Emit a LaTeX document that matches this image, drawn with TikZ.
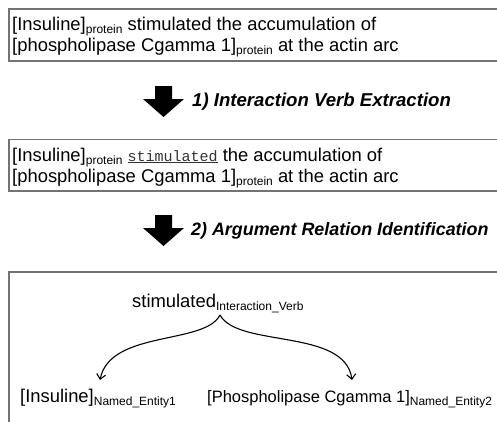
\documentclass[tikz,border=0pt]{standalone}
\usepackage{fontspec}
\setmainfont{Liberation Sans}
\newfontfamily\monofnt{Liberation Mono}
\usetikzlibrary{arrows.meta}
\newcommand\sbs[1]{\raisebox{-3pt}{\fontsize{12}{12}\selectfont #1}}
\tikzset{
  boxline/.style={draw=black!55, line width=1.4pt},
  txt/.style={anchor=base west, inner sep=0pt, font=\fontsize{18.4}{21}\selectfont},
  steplabel/.style={anchor=base west, inner sep=0pt, font=\fontsize{18.6}{21}\selectfont\bfseries\itshape},
  blockarrow/.style={fill=black},
  relarrow/.style={draw=black, line width=1.1pt, -{Straight Barb[length=5pt,width=9pt,line width=1.1pt]}}
}
\begin{document}
\begin{tikzpicture}[x=1pt,y=-1pt]
\useasboundingbox (0,0) rectangle (497,421);
\clip (0,0) rectangle (497,421);
\fill[white] (0,0) rectangle (497,421);
% boxes
\draw[boxline] (9,9) rectangle (520,61);
\draw[boxline] (9,139.5) rectangle (520,191);
\draw[boxline] (520,272) -- (9,272) -- (9,440);
% box 1
\node[txt] (b1a) at (12,30) {[Insuline]\sbs{protein} stimulated the accumulation of};
\node[txt] (b1b) at (12,51) {[phospholipase Cgamma 1]\sbs{protein} at the actin arc};
% step 1
\fill[blockarrow] (155,86) -- (172,86) -- (172,99) -- (184,99) -- (163.5,117) -- (143,99) -- (155,99) -- cycle;
\node[steplabel] (s1) at (192,106) {1) Interaction Verb Extraction};
% box 2
\node[txt] (b2a) at (12,161) {[Insuline]\sbs{protein} {\monofnt\fontsize{15}{15}\selectfont\color{black!80}\underline{stimulated}} the accumulation of};
\node[txt] (b2b) at (12,182) {[phospholipase Cgamma 1]\sbs{protein} at the actin arc};
% step 2
\fill[blockarrow] (155,215) -- (172,215) -- (172,228) -- (184,228) -- (163.5,246) -- (143,228) -- (155,228) -- cycle;
\node[steplabel, font=\fontsize{17.9}{21}\selectfont\bfseries\itshape] (s2) at (191,235) {2) Argument Relation Identification};
% box 3
\node[txt] (v) at (132,307) {stimulated\sbs{Interaction\_Verb}};
\node[txt] (e1) at (20,402) {[Insuline]\sbs{Named\_Entity1}};
\node[txt, font=\fontsize{16.5}{20}\selectfont] (e2) at (207,402) {[Phospholipase Cgamma 1]\sbs{Named\_Entity2}};
\coordinate (apex) at (220,315);
\coordinate (t1) at (100,380);
\coordinate (t2) at (352,380);
\draw[relarrow] (apex) .. controls (205,345) and (110,330) .. (t1);
\draw[relarrow] (apex) .. controls (238,348) and (345,328) .. (t2);
\end{tikzpicture}
\end{document}
